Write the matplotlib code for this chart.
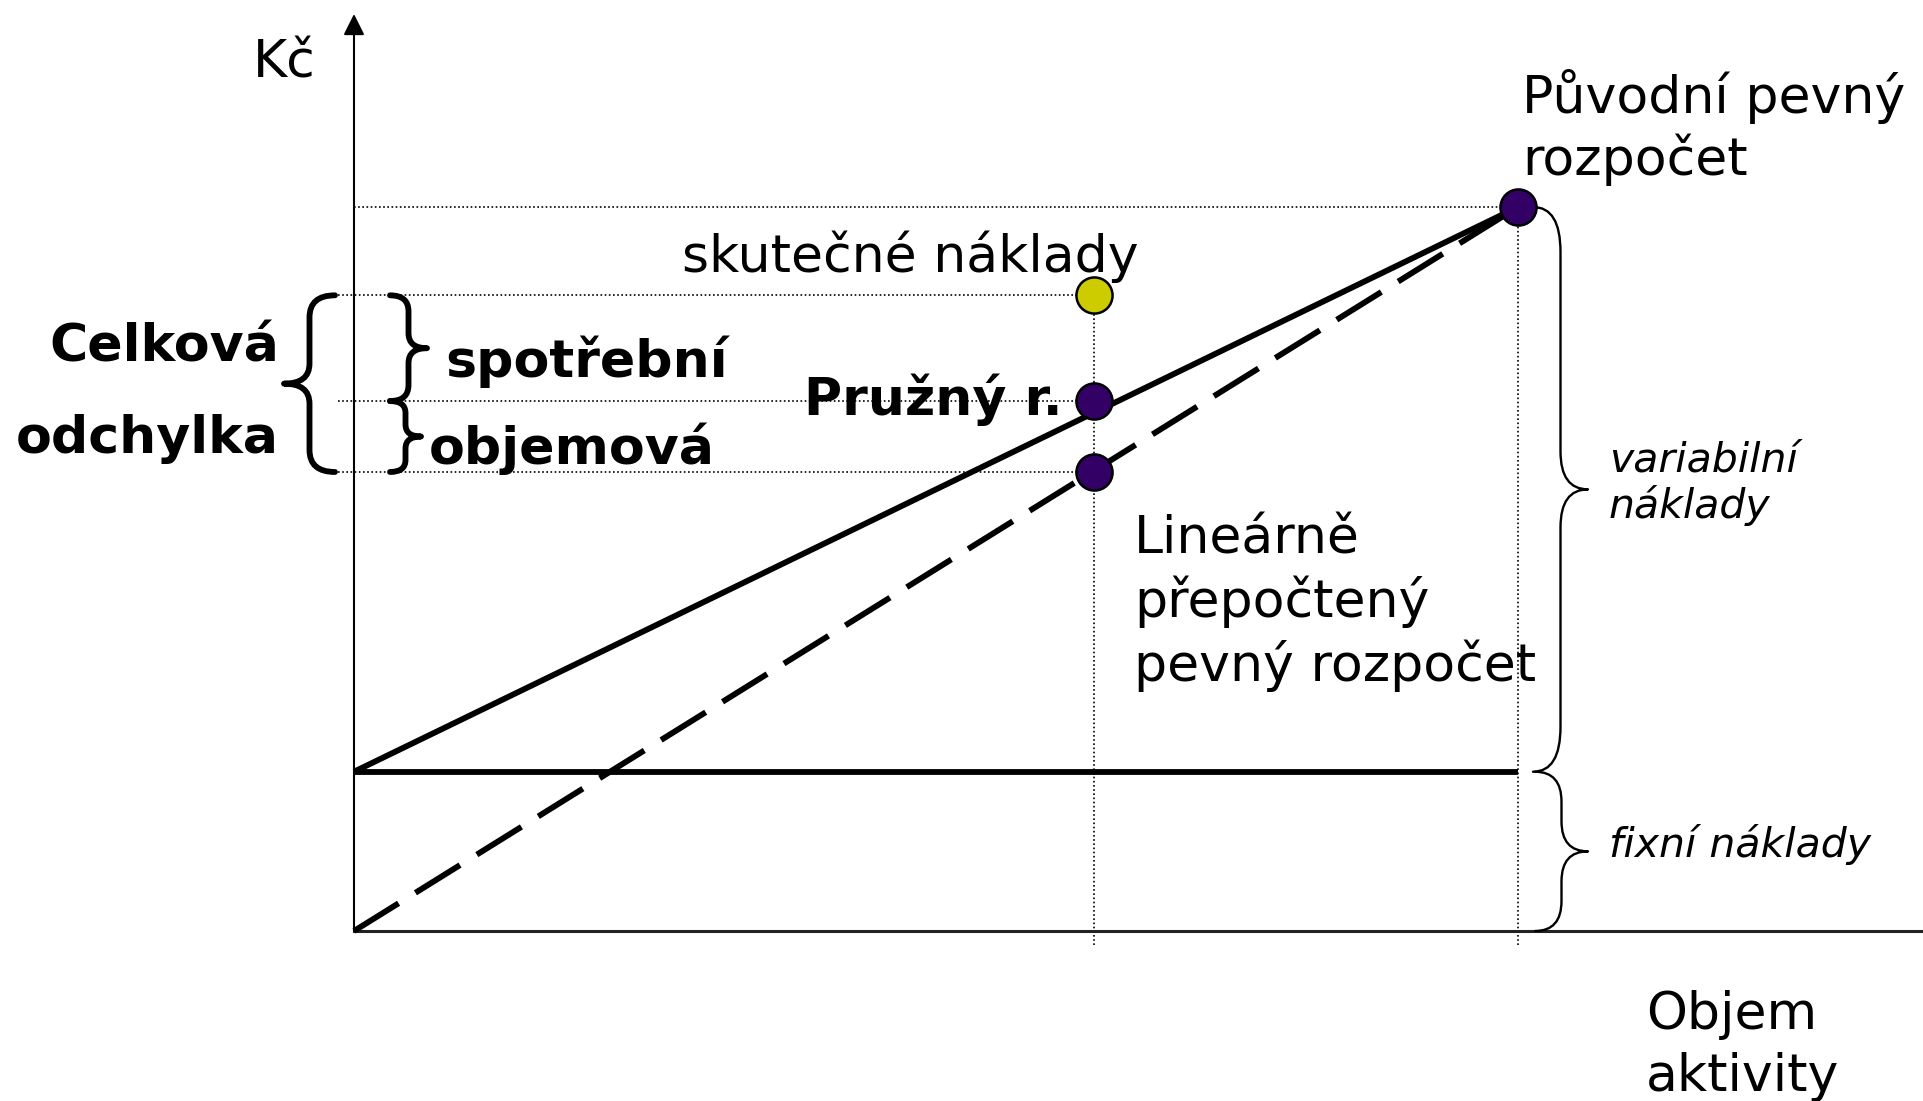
import matplotlib
matplotlib.use("Agg")
import matplotlib.pyplot as plt
from matplotlib.path import Path
from matplotlib.patches import PathPatch

# values (volume: plan = 100, cost: original budget = 100)
volume_plan = 100
volume_actual = 63.6
fixed_cost = 22.0
budget_total = 100.0
flex_budget = 73.2       # "Pružný r." point
linear_budget = 63.4     # linearly recalculated fixed budget
actual_cost = 87.8       # "skutečné náklady"

# pixel <-> data mapping (origin of the chart sits at pixel 354, 931)
X0_PX, Y0_PX = 354, 931
PXX = 11.64   # px per volume unit
PXY = 7.24    # px per cost unit


def dx(px):
    return (px - X0_PX) / PXX


def dy(py):
    return (Y0_PX - py) / PXY


def brace(ax, y_top, y_bot, x_end, x_tip, r_end, r_tip, lw):
    # curly brace between y_top and y_bot, r_* given in pixels
    x_mid = (x_end + x_tip) / 2
    ym = (y_top + y_bot) / 2
    re_ = r_end / PXY
    rt = r_tip / PXY
    verts = [(x_end, y_top), (x_mid, y_top), (x_mid, y_top - re_),
             (x_mid, ym + rt), (x_mid, ym), (x_tip, ym),
             (x_mid, ym), (x_mid, ym - rt),
             (x_mid, y_bot + re_), (x_mid, y_bot), (x_end, y_bot)]
    codes = [Path.MOVETO, Path.CURVE3, Path.CURVE3, Path.LINETO,
             Path.CURVE3, Path.CURVE3, Path.CURVE3, Path.CURVE3,
             Path.LINETO, Path.CURVE3, Path.CURVE3]
    ax.add_patch(PathPatch(Path(verts, codes), fill=False, lw=lw,
                           edgecolor='black', capstyle='round',
                           joinstyle='round', zorder=3))


fig = plt.figure(figsize=(19.23, 11.01), dpi=100)
ax = fig.add_axes([0, 0, 1, 1])
ax.set_xlim(dx(0), dx(1923))
ax.set_ylim(dy(1101), dy(0))
ax.axis('off')

# axes
ax.plot([0, dx(1923)], [0, 0], color='#222222', lw=2.2, zorder=2)
ax.annotate('', xy=(0, dy(14)), xytext=(0, 0),
            arrowprops=dict(arrowstyle='-|>', color='black', lw=1.5,
                            mutation_scale=32, shrinkA=0, shrinkB=0))

dots = dict(color='black', lw=1.2, linestyle=(0, (1, 1.5)), zorder=1)
ax.plot([0, volume_plan], [budget_total, budget_total], **dots)
for val in [actual_cost, flex_budget, linear_budget]:
    ax.plot([dx(338), volume_actual], [val, val], **dots)
ax.plot([volume_actual, volume_actual], [dy(945), actual_cost], **dots)
ax.plot([volume_plan, volume_plan], [dy(945), budget_total], **dots)

# cost lines
lw_main = 4.2
ax.plot([0, volume_plan], [fixed_cost, fixed_cost], color='black', lw=lw_main,
        solid_capstyle='butt', zorder=3)
ax.plot([0, volume_plan], [fixed_cost, budget_total], color='black', lw=lw_main,
        solid_capstyle='butt', zorder=3)
ax.plot([0, volume_plan], [0, budget_total], color='black', lw=lw_main,
        dashes=(9.0, 3.4), zorder=3)

# points
pt = dict(marker='o', ms=26, mec='black', mew=1.8, linestyle='none', zorder=5)
ax.plot([volume_plan, volume_actual, volume_actual],
        [budget_total, flex_budget, linear_budget], mfc='#330066', **pt)
ax.plot([volume_actual], [actual_cost], mfc='#cccc00', **pt)

# braces
brace(ax, actual_cost, linear_budget, dx(335), dx(284), 22, 20, 4.2)
brace(ax, actual_cost, flex_budget, dx(390), dx(427), 16, 15, 4.2)
brace(ax, flex_budget, linear_budget, dx(390), dx(421), 12, 12, 4.2)
brace(ax, budget_total, fixed_cost, dx(1533), dx(1588), 45, 38, 1.7)
brace(ax, fixed_cost, 0, dx(1535), dx(1588), 30, 30, 1.7)

fs = 37.5
reg = dict(fontsize=fs, va='baseline', family='DejaVu Sans')
bold = dict(fontsize=fs, va='baseline', family='DejaVu Sans', weight='bold')
ital = dict(fontsize=29.5, va='baseline', family='DejaVu Sans', style='italic')

ax.text(dx(253), dy(77), 'Kč', **reg)
ax.text(dx(1522), dy(113), 'Původní pevný', **reg)
ax.text(dx(1522), dy(175), 'rozpočet', **reg)
ax.text(dx(682), dy(272), 'skutečné náklady', **reg)
ax.text(dx(279), dy(362), 'Celková', ha='right', **bold)
ax.text(dx(279), dy(453), 'odchylka', ha='right', **bold)
ax.text(dx(445), dy(377), 'spotřební', **bold)
ax.text(dx(429), dy(464), 'objemová', **bold)
ax.text(dx(804), dy(415), 'Pružný r.', **bold)
ax.text(dx(1134), dy(553), 'Lineárně', **reg)
ax.text(dx(1134), dy(617), 'přepočtený', **reg)
ax.text(dx(1134), dy(681), 'pevný rozpočet', **reg)
ax.text(dx(1609), dy(471), 'variabilní', **ital)
ax.text(dx(1609), dy(518), 'náklady', **ital)
ax.text(dx(1609), dy(857), 'fixní náklady', **ital)
ax.text(dx(1646), dy(1029), 'Objem', **reg)
ax.text(dx(1646), dy(1091), 'aktivity', **reg)

fig.savefig('out.png', dpi=100)
